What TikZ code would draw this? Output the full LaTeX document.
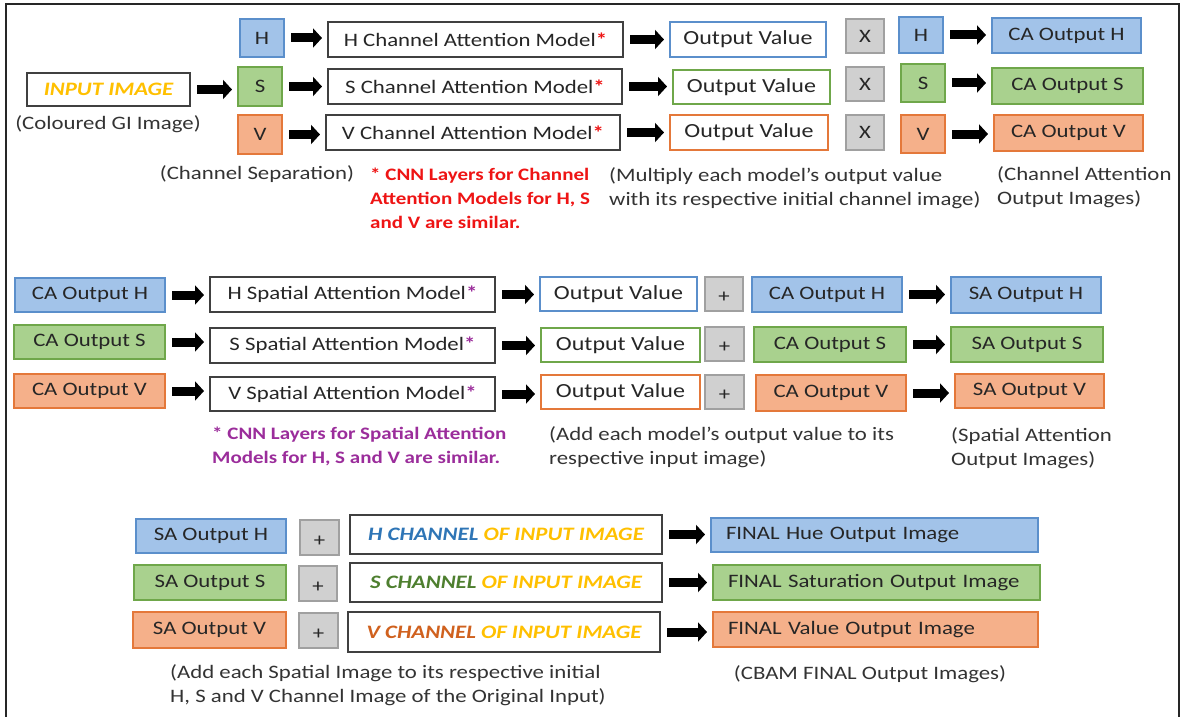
\documentclass[tikz,border=0pt]{standalone}
\usepackage{fontspec}
\setmainfont{Carlito}[FakeStretch=1.2]
\usetikzlibrary{arrows.meta}

\definecolor{ink}{HTML}{262626}
\definecolor{noteink}{HTML}{333333}
\definecolor{blueF}{HTML}{A2C3E9}
\definecolor{blueD}{HTML}{5B8FCB}
\definecolor{greenF}{HTML}{A9D18E}
\definecolor{greenD}{HTML}{6FA74A}
\definecolor{orangeF}{HTML}{F5B08A}
\definecolor{orangeD}{HTML}{E4783A}
\definecolor{grayF}{HTML}{D0D0D0}
\definecolor{grayD}{HTML}{A0A0A0}
\definecolor{rimD}{HTML}{404040}
\definecolor{gold}{HTML}{FFC000}
\definecolor{redT}{HTML}{EE1414}
\definecolor{purpleT}{HTML}{9B2D9B}
\definecolor{hueT}{HTML}{2E75B6}
\definecolor{satT}{HTML}{4E7F2F}
\definecolor{valT}{HTML}{D0611E}

\newcommand\diagfont{\fontsize{19pt}{24pt}\selectfont}
\newcommand\valuefont{\fontsize{20pt}{24pt}\selectfont}
\newcommand\starfont{\fontsize{17.5pt}{24pt}\selectfont\bfseries}
% \mkbox{style}{name}{x1}{y1}{x2}{y2}{text}
\newcommand\mkbox[7]{\node[#1, minimum width={#5pt-#3pt}, minimum height={#6pt-#4pt}] (#2) at ({(#3+#5)/2},{(#4+#6)/2}) {#7};}

\tikzset{
  box/.style={draw, line width=1.5pt, inner sep=0pt, outer sep=0pt, font=\diagfont, text=ink},
  bluebox/.style={box, draw=blueD, fill=blueF},
  greenbox/.style={box, draw=greenD, fill=greenF},
  orangebox/.style={box, draw=orangeD, fill=orangeF},
  graybox/.style={box, draw=grayD, fill=grayF},
  plainbox/.style={box, draw=rimD, fill=white},
  bluerim/.style={box, draw=blueD, fill=white, font=\valuefont},
  greenrim/.style={box, draw=greenD, fill=white, font=\valuefont},
  orangerim/.style={box, draw=orangeD, fill=white, font=\valuefont},
  leftbox/.style={text width={#1}, align=left, inner xsep=15pt},
  note/.style={inner sep=0pt, font=\diagfont, text=noteink},
  flow/.style={line width=9pt, draw=black, -{Triangle[length=9pt,width=19pt]},
               shorten <=7pt, shorten >=6pt}
}

\newcommand\redstar{\textcolor{redT}{\textbf{*}}}
\newcommand\purplestar{\textcolor{purpleT}{\textbf{*}}}
% plus sign sitting a little below the middle of its box
\newcommand\plussign{\raisebox{-8.5pt}[0pt][0pt]{+}}

\begin{document}
\begin{tikzpicture}[x=1pt,y=-1pt]
\useasboundingbox (0,0) rectangle (1181,717);

% open frame round the whole chart
\draw[line width=2pt, black!85] (6,717) -- (6,4) -- (1179,4) -- (1179,717);

% ---------------- channel attention stage ----------------
\mkbox{plainbox, font=\diagfont\bfseries\itshape, text=gold}{inp}{27}{73}{190}{106}{INPUT IMAGE}
\mkbox{bluebox}{chH}{240}{19}{284}{57}{H}
\mkbox{greenbox}{chS}{238}{67}{282}{106}{S}
\mkbox{orangebox}{chV}{238}{115}{282}{154}{V}

\mkbox{plainbox}{camH}{328}{22}{623}{57}{H Channel Attention Model\redstar}
\mkbox{plainbox}{camS}{328}{69}{622}{104}{S Channel Attention Model\redstar}
\mkbox{plainbox}{camV}{326}{115}{620}{150}{V Channel Attention Model\redstar}

\mkbox{bluerim}{caoH}{670}{22}{826}{57}{Output Value}
\mkbox{greenrim}{caoS}{673}{70}{830}{104}{Output Value}
\mkbox{orangerim}{caoV}{670}{115}{828}{150}{Output Value}

\mkbox{graybox}{mulH}{846}{19}{884}{53}{X}
\mkbox{graybox}{mulS}{846}{67}{884}{101}{X}
\mkbox{graybox}{mulV}{846}{115}{884}{150}{X}

\mkbox{bluebox}{inH}{899}{17}{943}{53}{H}
\mkbox{greenbox}{inS}{901}{64}{945}{102}{S}
\mkbox{orangebox}{inV}{901}{115}{945}{153}{V}

\mkbox{bluebox}{caH}{992}{18}{1141}{53}{CA Output H}
\mkbox{greenbox}{caS}{992}{68}{1143}{104}{CA Output S}
\mkbox{orangebox}{caV}{994}{115}{1143}{151}{CA Output V}

\draw[flow] (inp.east) -- (inp.east -| chS.west);
\draw[flow] (chH.east) -- (chH.east -| camH.west);
\draw[flow] (chS.east) -- (chS.east -| camS.west);
\draw[flow] (chV.east) -- (chV.east -| camV.west);
\draw[flow] (camH.east) -- (camH.east -| caoH.west);
\draw[flow] (camS.east) -- (camS.east -| caoS.west);
\draw[flow] (camV.east) -- (camV.east -| caoV.west);
\draw[flow] (inH.east) -- (inH.east -| caH.west);
\draw[flow] (inS.east) -- (inS.east -| caS.west);
\draw[flow] (inV.east) -- (inV.east -| caV.west);

\node[note] (inpnote) at (108,124) {(Coloured GI Image)};
\node[note] (sepnote) at (257,174) {(Channel Separation)};
\node[note, anchor=north west, align=left, text=redT, font=\starfont] (canote)
  at (370,168) {* CNN Layers for Channel\\Attention Models for H, S\\and V are similar.};
\node[note, anchor=north west, align=left] (mulnote)
  at (609,167) {(Multiply each model’s output value\\with its respective initial channel image)};
\node[note, anchor=north west, align=left] (caoutnote)
  at (997,166) {(Channel Attention\\Output Images)};

% ---------------- spatial attention stage ----------------
\mkbox{bluebox}{sinH}{15}{278}{165}{312}{CA Output H}
\mkbox{greenbox}{sinS}{14}{325}{165}{359}{CA Output S}
\mkbox{orangebox}{sinV}{14}{374}{165}{408}{CA Output V}

\mkbox{plainbox}{samH}{210}{277}{495}{312}{H Spatial Attention Model\purplestar}
\mkbox{plainbox}{samS}{210}{328}{495}{363}{S Spatial Attention Model\purplestar}
\mkbox{plainbox}{samV}{210}{377}{495}{411}{V Spatial Attention Model\purplestar}

\mkbox{bluerim}{saoH}{540}{277}{697}{311}{Output Value}
\mkbox{greenrim}{saoS}{541}{328}{700}{362}{Output Value}
\mkbox{orangerim}{saoV}{541}{375}{700}{409}{Output Value}

\mkbox{graybox}{addH}{705}{277}{743}{311}{\plussign}
\mkbox{graybox}{addS}{705}{327}{744}{361}{\plussign}
\mkbox{graybox}{addV}{705}{375}{744}{409}{\plussign}

\mkbox{bluebox}{resH}{752}{277}{902}{312}{CA Output H}
\mkbox{greenbox}{resS}{754}{327}{906}{362}{CA Output S}
\mkbox{orangebox}{resV}{756}{375}{906}{411}{CA Output V}

\mkbox{bluebox}{saH}{951}{277}{1101}{313}{SA Output H}
\mkbox{greenbox}{saS}{951}{327}{1103}{362}{SA Output S}
\mkbox{orangebox}{saV}{955}{374}{1104}{408}{SA Output V}

\draw[flow] (sinH.east) -- (sinH.east -| samH.west);
\draw[flow] (sinS.east) -- (sinS.east -| samS.west);
\draw[flow] (sinV.east) -- (sinV.east -| samV.west);
\draw[flow] (samH.east) -- (samH.east -| saoH.west);
\draw[flow] (samS.east) -- (samS.east -| saoS.west);
\draw[flow] (samV.east) -- (samV.east -| saoV.west);
\draw[flow] (resH.east) -- (resH.east -| saH.west);
\draw[flow] (resS.east) -- (resS.east -| saS.west);
\draw[flow] (resV.east) -- (resV.east -| saV.west);

\node[note, anchor=north west, align=left, text=purpleT, font=\starfont] (sanote)
  at (212,427) {* CNN Layers for Spatial Attention\\Models for H, S and V are similar.};
\node[note, anchor=north west, align=left] (addnote)
  at (549,426) {(Add each model’s output value to its\\respective input image)};
\node[note, anchor=north west, align=left] (saoutnote)
  at (951,427) {(Spatial Attention\\Output Images)};

% ---------------- final stage ----------------
\mkbox{bluebox}{finH}{136}{519}{286}{553}{SA Output H}
\mkbox{greenbox}{finS}{134}{565}{286}{600}{SA Output S}
\mkbox{orangebox}{finV}{133}{612}{286}{648}{SA Output V}

\mkbox{graybox}{sumH}{300}{520}{339}{555}{\plussign}
\mkbox{graybox}{sumS}{299}{566}{337}{601}{\plussign}
\mkbox{graybox}{sumV}{299}{613}{338}{648}{\plussign}

\mkbox{plainbox, font=\diagfont\bfseries\itshape, text=gold}{orgH}{350}{515}{662}{554}{\textcolor{hueT}{H CHANNEL} OF INPUT IMAGE}
\mkbox{plainbox, font=\diagfont\bfseries\itshape, text=gold}{orgS}{350}{563}{662}{602}{\textcolor{satT}{S CHANNEL} OF INPUT IMAGE}
\mkbox{plainbox, font=\diagfont\bfseries\itshape, text=gold}{orgV}{348}{612}{660}{652}{\textcolor{valT}{V CHANNEL} OF INPUT IMAGE}

\mkbox{bluebox, leftbox=297pt}{outH}{711}{518}{1038}{552}{FINAL Hue Output Image}
\mkbox{greenbox, leftbox=297pt}{outS}{713}{565}{1040}{600}{FINAL Saturation Output Image}
\mkbox{orangebox, leftbox=295pt}{outV}{713}{612}{1038}{647}{FINAL Value Output Image}

\draw[flow] (orgH.east) -- (orgH.east -| outH.west);
\draw[flow] (orgS.east) -- (orgS.east -| outS.west);
\draw[flow] (orgV.east) -- (orgV.east -| outV.west);

\node[note, anchor=north west, align=left] (finnote)
  at (170,664) {(Add each Spatial Image to its respective initial\\H, S and V Channel Image of the Original Input)};
\node[note] (cbamnote) at (870,674) {(CBAM FINAL Output Images)};
\end{tikzpicture}
\end{document}
